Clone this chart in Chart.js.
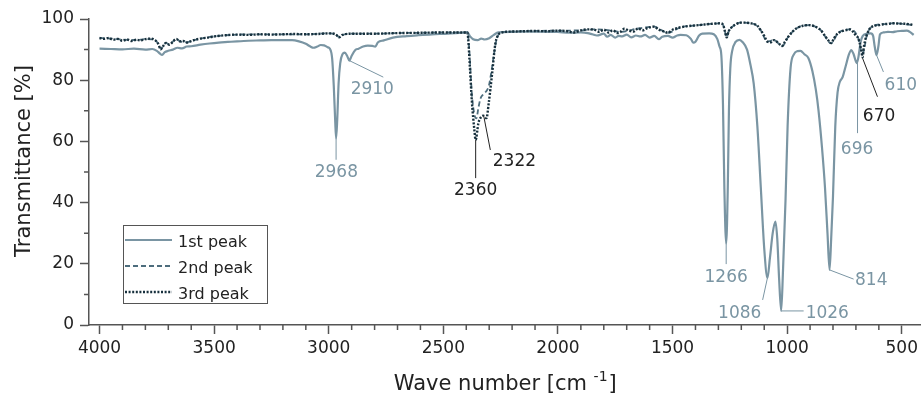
<!DOCTYPE html>
<html>
<head>
<meta charset="utf-8">
<script src="https://cdn.jsdelivr.net/npm/chart.js@4.4.1/dist/chart.umd.min.js"></script>
<style>
  body { margin: 0; background: #fff; }
  #wrap { width: 922px; height: 395px; }
</style>
</head>
<body>
<div id="wrap"><canvas id="ftir" width="922" height="395"></canvas></div>
<script>
// spectra: [wave number, transmittance %]
const peak1 = [
  [4000,90.3],[3950,90.2],[3900,90.1],[3850,90.3],[3800,90.0],[3770,90.2],[3750,89.6],[3735,88.6],
  [3727,88.3],[3715,89.2],[3700,89.6],[3680,90.0],[3660,90.6],[3640,90.4],[3620,91.0],[3600,91.1],
  [3560,91.6],[3520,92.0],[3480,92.3],[3440,92.5],[3400,92.7],[3350,92.9],[3300,93.0],[3250,93.1],
  [3200,93.1],[3160,93.1],[3130,92.7],[3100,91.9],[3080,91.0],[3067,90.6],[3050,91.0],[3035,91.5],
  [3020,91.4],[3005,90.8],[2995,90.3],[2985,87],[2978,78],[2972,67],[2968,61],[2963,67],
  [2957,79],[2950,85.5],[2940,88.5],[2930,89],[2920,88],[2910,86.4],[2900,88],[2885,89.8],
  [2870,90.3],[2850,91.0],[2830,91.3],[2810,91.2],[2797,91.0],[2785,92.4],[2760,93],[2720,93.9],
  [2660,94.4],[2610,94.7],[2550,95.0],[2480,95.2],[2420,95.5],[2395,95.6],[2385,94.5],[2370,93.4],
  [2350,93.1],[2335,93.6],[2320,93.3],[2300,93.7],[2280,94.8],[2260,95.6],[2200,95.8],[2100,95.9],
  [2000,95.8],[1950,95.5],[1900,95.6],[1870,95.4],[1850,95.0],[1830,94.6],[1800,95.2],[1785,94.2],
  [1770,94.8],[1750,93.9],[1735,94.5],[1720,94.3],[1700,94.9],[1680,94.0],[1660,94.6],[1640,94.3],
  [1620,94.8],[1600,93.9],[1580,94.5],[1560,93.4],[1545,94.2],[1520,94.5],[1500,93.9],[1480,94.6],
  [1465,94.8],[1440,94.7],[1420,93.5],[1410,92.3],[1400,92.6],[1385,94.5],[1370,95.2],[1340,95.3],
  [1320,95.0],[1305,93.5],[1295,91],[1287,88],[1280,72],[1274,45],[1266,26.7],[1259,45],
  [1254,70],[1248,84],[1240,89.5],[1225,92.5],[1208,93.2],[1195,92.5],[1175,90],[1160,85],
  [1146,79],[1130,65],[1115,45],[1100,25],[1086,15.4],[1075,22],[1063,30],[1051,33.8],
  [1043,28],[1035,15],[1026,4.6],[1018,18],[1007,41],[998,65],[985,84],[970,88.5],
  [955,89.5],[942,89.6],[925,88.5],[907,87.2],[890,83],[875,77],[863,70],[848,58],
  [835,45],[824,30],[815,18],[808,28],[800,42],[790,65],[780,76],[770,79.5],
  [758,81],[745,84.5],[730,88.5],[720,89.8],[710,88.5],[696,85.6],[688,88],[680,92.2],
  [670,94.5],[650,95.2],[635,95.3],[625,94.5],[618,91],[610,88.2],[602,91],[595,95.0],
  [580,95.6],[560,95.8],[540,95.7],[520,96.0],[500,96.1],[478,96.2],[465,95.8],[448,94.8]
];

const peak2 = [
  [4000,93.8],[3960,93.7],[3920,93.4],[3880,93.2],[3840,93.1],[3800,93.4],[3760,93.2],[3745,92.0],
  [3733,90.3],[3722,91.2],[3710,92.2],[3695,91.7],[3680,92.6],[3665,93.4],[3650,92.8],[3620,92.4],
  [3600,92.8],[3560,93.6],[3500,94.3],[3400,94.9],[3300,95.0],[3200,95.0],[3100,95.0],[3000,95.3],
  [2970,95.0],[2955,94.1],[2940,94.8],[2900,95.2],[2800,95.2],[2700,95.4],[2600,95.5],[2500,95.6],
  [2420,95.6],[2395,95.6],[2391,94],[2386,89],[2375,75],[2365,69],[2356,67.5],[2347,71],
  [2338,74],[2324,75.5],[2312,76.5],[2302,78],[2290,83],[2280,88],[2270,92.6],[2260,94.8],
  [2251,95.5],[2200,95.9],[2100,96.1],[2000,96.2],[1900,96.3],[1845,96.6],[1800,96.5],[1727,95.8],
  [1650,96.9],[1582,97.5],[1521,95.5],[1465,97.3],[1400,97.9],[1334,98.4],[1291,98.6],[1278,97.8],
  [1270,95.5],[1264,94.0],[1255,96],[1239,97.5],[1204,98.8],[1146,98.4],[1116,96.4],[1086,92.6],
  [1058,93.1],[1021,91.2],[995,94.2],[958,97],[905,98.0],[854,96.4],[808,92.1],[779,95.3],
  [725,96.6],[692,94.2],[671,88.8],[650,95.3],[624,97.7],[580,98.3],[537,98.6],[448,98.0]
];

const peak3 = [
  [4000,93.8],[3980,93.5],[3960,93.8],[3940,93.2],[3920,93.5],[3900,92.9],[3880,93.3],[3860,92.8],
  [3840,93.2],[3820,93.0],[3800,93.4],[3780,93.6],[3760,93.2],[3745,92.0],[3733,90.1],[3722,91.2],
  [3710,92.2],[3695,91.6],[3680,92.6],[3665,93.5],[3650,92.7],[3635,92.8],[3620,92.3],[3600,92.8],
  [3580,93.3],[3560,93.6],[3530,93.9],[3500,94.3],[3450,94.7],[3400,94.9],[3350,94.8],[3300,95.0],
  [3250,94.9],[3200,95.0],[3150,95.1],[3100,95.0],[3050,95.1],[3000,95.3],[2970,95.0],[2955,94.0],
  [2940,94.8],[2900,95.2],[2850,95.2],[2800,95.2],[2700,95.4],[2600,95.5],[2500,95.6],[2420,95.6],
  [2395,95.6],[2391,93],[2386,86.6],[2375,72.5],[2365,64],[2359,60.5],[2347,66],[2335,68],
  [2325,68.4],[2312,67.6],[2302,72.5],[2287,82.3],[2273,92],[2260,94.8],[2251,95.5],[2200,95.9],
  [2150,96.0],[2100,96.1],[2050,96.0],[2000,96.2],[1960,96.0],[1930,95.6],[1900,96.3],[1870,96.6],
  [1845,96.6],[1820,95.8],[1800,96.5],[1780,95.6],[1760,96.3],[1740,95.4],[1727,95.8],[1710,96.8],
  [1690,96.2],[1670,95.9],[1650,96.9],[1630,96.3],[1610,97.0],[1582,97.5],[1560,96.5],[1540,96.0],
  [1521,95.5],[1500,96.5],[1480,97.0],[1465,97.3],[1440,97.6],[1400,97.9],[1360,98.2],[1334,98.4],
  [1291,98.6],[1278,97.8],[1270,95.5],[1264,94.0],[1255,96],[1239,97.5],[1220,98.4],[1204,98.8],
  [1180,98.8],[1160,98.6],[1146,98.4],[1130,97.8],[1116,96.4],[1100,94.5],[1086,92.6],[1070,92.4],
  [1058,93.1],[1045,92.6],[1030,91.6],[1021,91.2],[1010,92.5],[995,94.2],[975,96.0],[958,97],
  [930,97.8],[905,98.0],[880,97.6],[854,96.4],[835,94.5],[820,93],[808,92.1],[795,93.8],
  [779,95.3],[760,96.0],[740,96.4],[725,96.6],[710,95.6],[700,94.6],[692,94.0],[683,92.0],
  [676,89.5],[671,87.5],[665,91],[658,93.5],[650,95.3],[640,96.8],[624,97.7],[600,98.0],
  [580,98.3],[560,98.4],[537,98.6],[510,98.5],[480,98.4],[460,98.2],[448,98.0]
];

const seriesNames = ['1st peak', '2nd peak', '3rd peak'];
const xTickValues = [4000, 3500, 3000, 2500, 2000, 1500, 1000, 500];
const yTickValues = [0, 20, 40, 60, 80, 100];
const xMinor = 100, yMinor = 10;

// peak labels: peak point, leader end and text centre, all in data units
const peakNotes = [
  { text: '2968', at: [2968, 61],   to: [2968, 54],  label: [2967, 50],   dark: false },
  { text: '2910', at: [2910, 86.4], to: [2762, 81],  label: [2810, 77.1], dark: false },
  { text: '2360', at: [2359, 60.5], to: [2359, 48],  label: [2359, 44.4], dark: true },
  { text: '2322', at: [2324, 68.4], to: [2295, 57.2],label: [2190, 53.6], dark: true },
  { text: '1266', at: [1266, 26.7], to: [1266, 19.9],label: [1266, 15.7], dark: false },
  { text: '1086', at: [1086, 15.4], to: [1107, 8.2], label: [1207, 3.9],  dark: false },
  { text: '1026', at: [1026, 4.6],  to: [928, 4.6],  label: [825, 3.9],   dark: false },
  { text: '814',  at: [815, 18],    to: [710, 15],   label: [633, 14.7],  dark: false },
  { text: '696',  at: [693, 85.6],  to: [693, 62.7], label: [695, 57.7],  dark: false },
  { text: '670',  at: [671, 87.2],  to: [606, 74.6], label: [599, 68.5],  dark: true },
  { text: '610',  at: [610, 88.2],  to: [580, 82.7], label: [504, 78.6],  dark: false }
];

const FONT = 'DejaVu Sans';
const colSolid = '#7a95a3';
const colDash = '#4d6d7d';
const colDot = '#17303d';
const colAxis = '#555555';
const colText = '#222222';

const pts = arr => arr.map(([x, y]) => ({ x, y }));
const fixTicks = values => scale => { scale.ticks = values.map(v => ({ value: v })); };

const extras = {
  id: 'extras',
  afterDraw(chart) {
    const { ctx, chartArea: a, scales: { x, y } } = chart;
    ctx.save();

    // minor ticks
    ctx.strokeStyle = colAxis;
    ctx.lineWidth = 1.5;
    ctx.beginPath();
    for (let v = xTickValues[0]; v >= x.min; v -= xMinor) {
      if (xTickValues.includes(v)) continue;
      const px = x.getPixelForValue(v);
      ctx.moveTo(px, a.bottom);
      ctx.lineTo(px, a.bottom + 5);
    }
    for (let v = y.min; v <= y.max; v += yMinor) {
      if (yTickValues.includes(v)) continue;
      const py = y.getPixelForValue(v);
      ctx.moveTo(a.left, py);
      ctx.lineTo(a.left - 5, py);
    }
    ctx.stroke();

    // peak labels
    ctx.font = '17px "' + FONT + '"';
    ctx.textAlign = 'center';
    ctx.textBaseline = 'middle';
    peakNotes.forEach(n => {
      const c = n.dark ? colText : colSolid;
      ctx.strokeStyle = c;
      ctx.fillStyle = c;
      ctx.lineWidth = 1;
      ctx.beginPath();
      ctx.moveTo(x.getPixelForValue(n.at[0]), y.getPixelForValue(n.at[1]));
      ctx.lineTo(x.getPixelForValue(n.to[0]), y.getPixelForValue(n.to[1]));
      ctx.stroke();
      ctx.fillText(n.text, x.getPixelForValue(n.label[0]), y.getPixelForValue(n.label[1]) + 1);
    });

    // legend
    const lx = a.left + 34, ly = a.top + 206, lw = 144, lh = 78;
    ctx.fillStyle = '#fff';
    ctx.fillRect(lx, ly, lw, lh);
    ctx.strokeStyle = colAxis;
    ctx.lineWidth = 1;
    ctx.strokeRect(lx + 0.5, ly + 0.5, lw, lh);
    ctx.font = '16px "' + FONT + '"';
    ctx.textAlign = 'left';
    chart.data.datasets.forEach((ds, i) => {
      const ry = ly + 15 + i * 26;
      ctx.strokeStyle = ds.borderColor;
      ctx.lineWidth = ds.borderWidth;
      ctx.setLineDash(ds.borderDash || []);
      ctx.beginPath();
      ctx.moveTo(lx + 2, ry);
      ctx.lineTo(lx + 49, ry);
      ctx.stroke();
      ctx.setLineDash([]);
      ctx.fillStyle = colText;
      ctx.fillText(ds.label, lx + 55, ry + 3);
    });

    // axis titles
    ctx.fillStyle = colText;
    ctx.font = '21px "' + FONT + '"';
    ctx.textAlign = 'center';
    ctx.textBaseline = 'alphabetic';
    ctx.save();
    ctx.translate(30, (a.top + a.bottom) / 2 - 11);
    ctx.rotate(-Math.PI / 2);
    ctx.fillText('Transmittance [%]', 0, 0);
    ctx.restore();

    const t1 = 'Wave number [cm ', sup = '-1', t2 = ']';
    ctx.font = '21px "' + FONT + '"';
    const w1 = ctx.measureText(t1).width, w3 = ctx.measureText(t2).width;
    ctx.font = '14px "' + FONT + '"';
    const w2 = ctx.measureText(sup).width;
    const tx = (a.left + a.right) / 2 - (w1 + w2 + w3) / 2;
    const ty = 390;
    ctx.textAlign = 'left';
    ctx.font = '21px "' + FONT + '"';
    ctx.fillText(t1, tx, ty);
    ctx.font = '14px "' + FONT + '"';
    ctx.fillText(sup, tx + w1, ty - 9);
    ctx.font = '21px "' + FONT + '"';
    ctx.fillText(t2, tx + w1 + w2 + 1, ty);

    ctx.restore();
  }
};

new Chart(document.getElementById('ftir'), {
  type: 'line',
  data: {
    datasets: [
      { label: seriesNames[0], data: pts(peak1), borderColor: colSolid, borderWidth: 2.2, order: 3 },
      { label: seriesNames[1], data: pts(peak2), borderColor: colDash, borderWidth: 1.8, borderDash: [5, 3], order: 2 },
      { label: seriesNames[2], data: pts(peak3), borderColor: colDot, borderWidth: 2.4, borderDash: [2, 1.6], order: 1 }
    ]
  },
  options: {
    responsive: false,
    devicePixelRatio: 1,
    animation: false,
    events: [],
    elements: { point: { radius: 0 }, line: { cubicInterpolationMode: 'monotone', fill: false } },
    layout: { padding: { top: 19, right: 1, left: 0, bottom: 0 } },
    plugins: { legend: { display: false }, tooltip: { enabled: false } },
    scales: {
      x: {
        type: 'linear',
        reverse: true,
        min: 418,
        max: 4046,
        afterFit: s => { s.height = 70; },
        afterBuildTicks: fixTicks(xTickValues),
        ticks: {
          autoSkip: false,
          color: colText,
          padding: 4,
          font: { family: FONT, size: 17 },
          maxRotation: 0,
          callback: v => String(v)
        },
        grid: { drawOnChartArea: false, tickLength: 9, tickColor: colAxis, tickWidth: 1.5 },
        border: { color: colAxis, width: 1.5 }
      },
      y: {
        min: 0,
        max: 100,
        afterFit: s => { s.width = 89; },
        afterBuildTicks: fixTicks(yTickValues),
        ticks: {
          autoSkip: false,
          color: colText,
          padding: 6,
          font: { family: FONT, size: 17 },
          callback: v => String(v)
        },
        grid: { drawOnChartArea: false, tickLength: 9, tickColor: colAxis, tickWidth: 1.5 },
        border: { color: colAxis, width: 1.5 }
      }
    }
  },
  plugins: [extras]
});
</script>
</body>
</html>
